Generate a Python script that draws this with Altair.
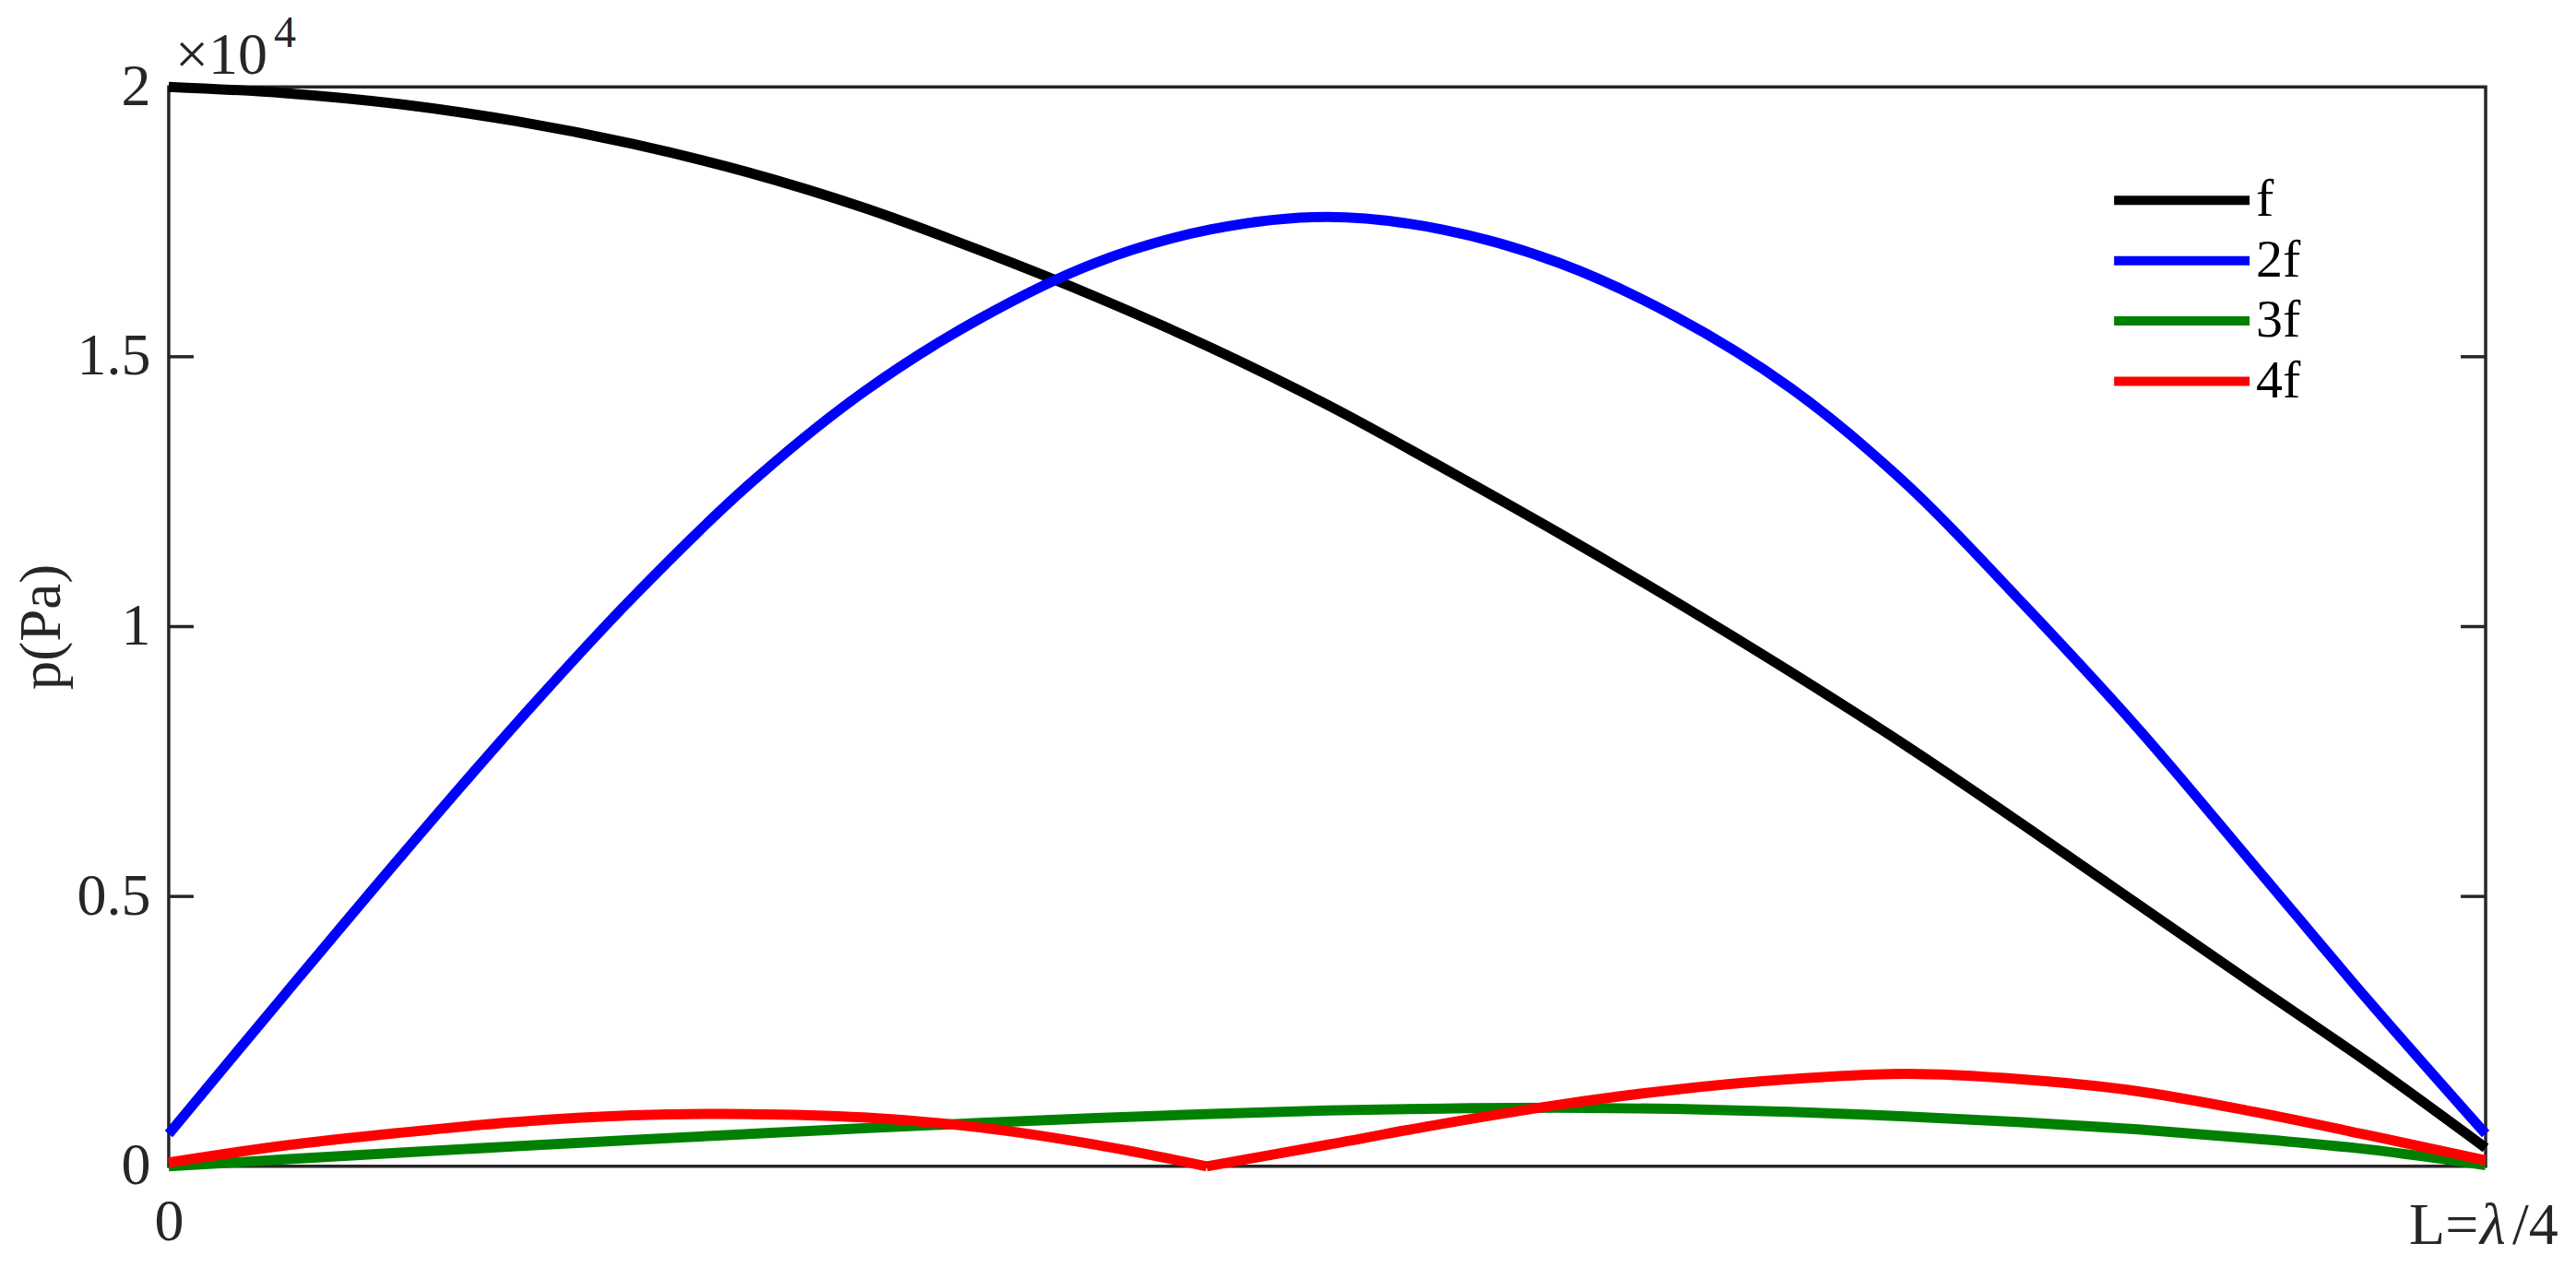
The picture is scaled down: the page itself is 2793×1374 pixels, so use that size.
import altair as alt
import pandas as pd

# ---- data (x as fraction of L = lambda/4, p in Pa) ----
x_grid = [0, 0.05, 0.10, 0.15, 0.20, 0.25, 0.30, 0.35, 0.40, 0.45, 0.50,
          0.55, 0.60, 0.65, 0.70, 0.75, 0.80, 0.85, 0.90, 0.95, 1.0]

p_f = [20000, 19884, 19678, 19365, 18945, 18416, 17760, 16972, 16113, 15164, 14110,
       12941, 11732, 10472, 9160, 7790, 6340, 4852, 3370, 1900, 340]

p_2f = [600, 3180, 5730, 8205, 10530, 12615, 14350, 15705, 16740, 17360, 17590,
        17355, 16740, 15750, 14420, 12640, 10440, 8110, 5580, 3040, 600]

p_3f = [0, 127, 252, 373, 489, 599, 704, 802, 892, 972, 1033,
        1070, 1085, 1065, 1010, 925, 815, 685, 515, 310, 20]

# 4f has a sharp zero (node) at x = 0.448: two lobes
x_4f_a = [0, 0.05, 0.10, 0.15, 0.20, 0.25, 0.30, 0.35, 0.40, 0.448]
p_4f_a = [70, 385, 622, 822, 943, 968, 905, 720, 400, 0]
x_4f_b = [0.448, 0.50, 0.55, 0.60, 0.65, 0.70, 0.75, 0.80, 0.85, 0.90, 0.95, 1.0]
p_4f_b = [0, 398, 790, 1140, 1420, 1615, 1712, 1610, 1390, 1010, 570, 110]

series = ["f", "2f", "3f", "4f"]
colors = ["#000000", "#0000ff", "#008000", "#ff0000"]
y_tick_values = [0, 5000, 10000, 15000, 20000]
inner_ticks = [5000, 10000, 15000]
x_tick_values = [0, 1]
end_label_parts = ["L=", "λ", "/4"]   # label at x = L (λ in italic)

rows = []
for name, seg, xs, ps in [("f", "f", x_grid, p_f), ("2f", "2f", x_grid, p_2f),
                          ("3f", "3f", x_grid, p_3f),
                          ("4f", "4a", x_4f_a, p_4f_a), ("4f", "4b", x_4f_b, p_4f_b)]:
    for xv, pv in zip(xs, ps):
        rows.append({"series": name, "seg": seg, "x": xv, "p": pv})
df = pd.DataFrame(rows)

W, H = 2513, 1171
FONT = "Liberation Serif"
AX = "#262626"

xscale = alt.Scale(domain=[0, 1], nice=False, zero=False)
yscale = alt.Scale(domain=[0, 20000], nice=False)

xaxis = alt.Axis(values=x_tick_values,
                 labelExpr="datum.value == 0 ? '0' : ''",
                 title=None, ticks=False, domain=False, grid=False,
                 labelFont=FONT, labelFontSize=64, labelColor=AX,
                 labelPadding=29, labelFlush=False, labelOverlap=False,
                 labelBound=False)
yaxis = alt.Axis(values=y_tick_values, labelExpr="'' + (datum.value / 10000)",
                 title="p(Pa)", titleFont=FONT, titleFontSize=63,
                 titleFontWeight="normal", titleColor=AX,
                 titleX=-137, titleY=585.5, titleAlign="center",
                 titleBaseline="middle",
                 ticks=False, domain=False, grid=False,
                 labelFont=FONT, labelFontSize=64, labelColor=AX,
                 labelPadding=20, labelFlush=False, labelOverlap=False)

legend = alt.Legend(orient="none", legendX=2105, legendY=94, title=None,
                    symbolType="stroke", symbolSize=147 * 147,
                    symbolStrokeWidth=10, labelFont=FONT, labelFontSize=58,
                    labelColor="#000000", labelOffset=2, rowPadding=7.5,
                    clipHeight=58, padding=0)
color = alt.Color("series:N", scale=alt.Scale(domain=series, range=colors),
                  sort=series, legend=legend)

base = alt.Chart(df)
lines = []
for s in series:
    lines.append(
        base.transform_filter(alt.datum.series == s)
        .mark_line(strokeWidth=11, interpolate="catmull-rom")
        .encode(x=alt.X("x:Q", scale=xscale, axis=xaxis),
                y=alt.Y("p:Q", scale=yscale, axis=yaxis),
                color=color,
                detail="seg:N")
    )

tick_df = pd.DataFrame({"p": inner_ticks})
left_ticks = alt.Chart(tick_df).mark_rule(color=AX, strokeWidth=3.5).encode(
    y=alt.Y("p:Q", scale=yscale, axis=yaxis), x=alt.value(0), x2=alt.value(27))
right_ticks = alt.Chart(tick_df).mark_rule(color=AX, strokeWidth=3.5).encode(
    y=alt.Y("p:Q", scale=yscale, axis=yaxis), x=alt.value(W - 27), x2=alt.value(W))

# end-of-axis label "L=λ/4" built from three pieces anchored at x = 1 on the x scale
end_layers = []
for txt, dx, style in [(end_label_parts[0], -83, "normal"),
                       (end_label_parts[1], -6, "italic"),
                       (end_label_parts[2], 29, "normal")]:
    end_layers.append(
        alt.Chart(pd.DataFrame({"x": [x_tick_values[1]], "t": [txt]}))
        .mark_text(font=FONT, fontSize=64, fontStyle=style, align="left",
                   baseline="alphabetic", color=AX, dx=dx)
        .encode(x=alt.X("x:Q", scale=xscale, axis=xaxis),
                y=alt.value(H + 84), text="t:N")
    )

sci = alt.Chart(pd.DataFrame({"t": ["×10"]})).mark_text(
    font=FONT, fontSize=64, align="left", baseline="alphabetic", color=AX
).encode(x=alt.value(7), y=alt.value(-14), text="t:N")
expo = alt.Chart(pd.DataFrame({"t": ["4"]})).mark_text(
    font=FONT, fontSize=48, align="left", baseline="alphabetic", color=AX
).encode(x=alt.value(114), y=alt.value(-43), text="t:N")

chart = alt.layer(*lines, left_ticks, right_ticks, *end_layers, sci, expo).properties(
    width=W, height=H,
    padding={"left": 175, "top": 86, "right": 90, "bottom": 100},
    autosize=alt.AutoSizeParams(type="none"),
).configure(background="white").configure_view(stroke=AX, strokeWidth=3.5)

chart.save("out.html", embed_options={"renderer": "svg", "actions": False})
